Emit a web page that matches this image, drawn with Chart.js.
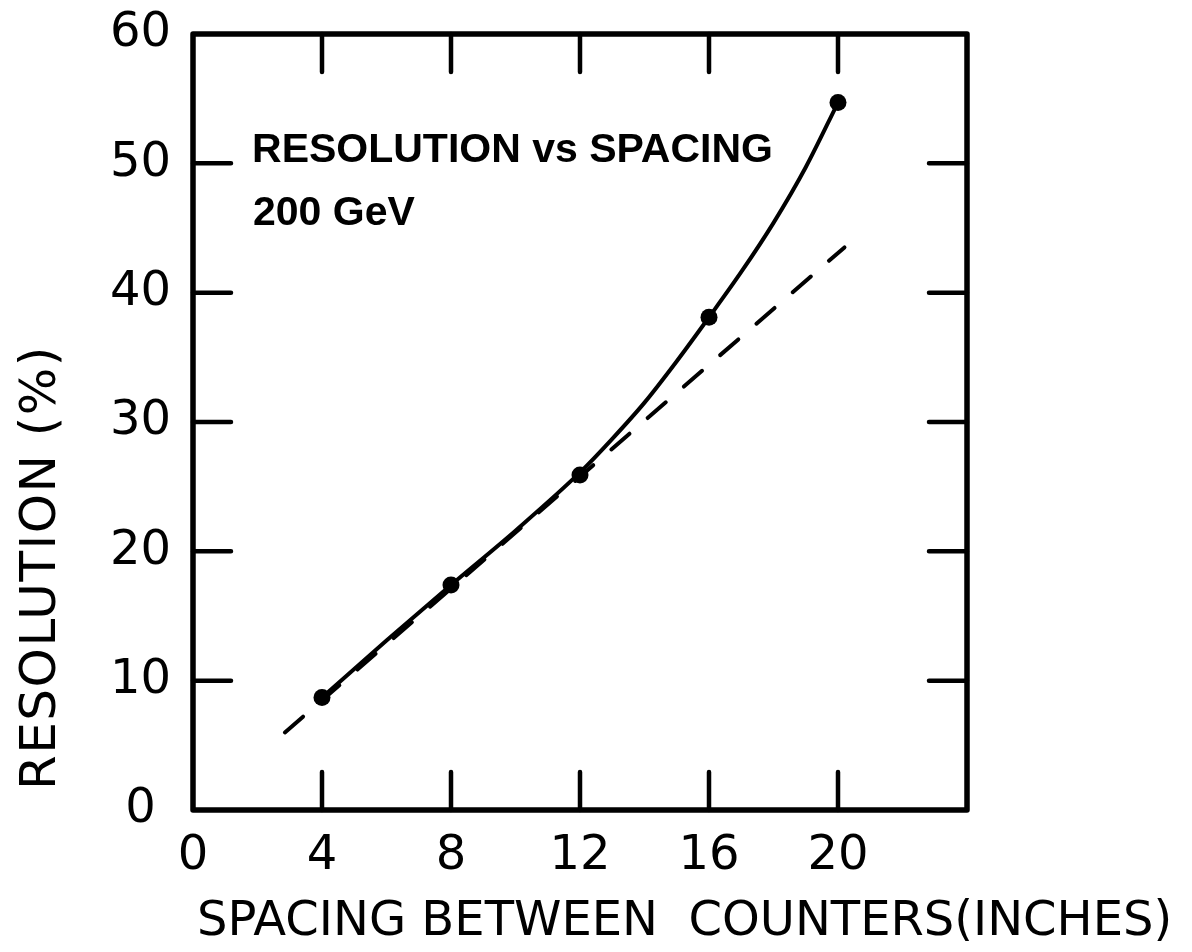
<!DOCTYPE html>
<html><head><meta charset="utf-8">
<script src="https://cdn.jsdelivr.net/npm/chart.js@4.4.1/dist/chart.umd.min.js"></script>
<style>html,body{margin:0;padding:0;background:#fff;} #wrap{width:1192px;height:952px;}</style>
</head><body><div id="wrap"><canvas id="c" width="1192" height="952"></canvas></div>
<script>
// ---- data ----
// measured points
const spacing = [4, 8, 12, 16, 20];
const resolution = [8.7, 17.4, 25.9, 38.1, 54.7];
// hand-drawn solid curve, positions
const curveX = [4, 6, 8, 10, 12, 13, 14, 15, 16, 17, 18, 19, 20];
const curveY = [8.7, 13.1, 17.4, 21.6, 26.1, 28.7, 31.5, 34.7, 38.1, 41.6, 45.4, 49.7, 54.7];
// dashed straight line, end points
const dashedX = [2.85, 20.2];
const dashedY = [6.0, 43.5];
const xTicks = [0, 4, 8, 12, 16, 20];
const yTicks = [0, 10, 20, 30, 40, 50, 60];
const xRange = [0, 24];
const yRange = [0, 60];
const noteLines = ['RESOLUTION vs SPACING', '200 GeV'];
const xTitle = 'SPACING BETWEEN  COUNTERS(INCHES)';
const yTitle = 'RESOLUTION (%)';

const INK = '#000';
const xTickFont = {family: 'DejaVu Sans', size: 48, weight: 'normal'};
const yTickFont = {family: 'DejaVu Sans', size: 48, weight: 'normal', lineHeight: 0.5};

const frameTicks = {
  id: 'frameTicks',
  afterDraw(chart) {
    const {ctx, chartArea: a, scales: {x, y}} = chart;
    ctx.save();
    ctx.strokeStyle = INK;
    ctx.lineCap = 'round';
    ctx.lineJoin = 'round';
    // inward tick marks
    ctx.lineWidth = 4.5;
    const L = 38;
    x.ticks.forEach(t => {
      if (t.value <= xRange[0] || t.value >= xRange[1]) return;
      const px = x.getPixelForValue(t.value);
      ctx.beginPath();
      ctx.moveTo(px, a.bottom); ctx.lineTo(px, a.bottom - L);
      ctx.moveTo(px, a.top); ctx.lineTo(px, a.top + L);
      ctx.stroke();
    });
    y.ticks.forEach(t => {
      if (t.value <= yRange[0] || t.value >= yRange[1]) return;
      const py = y.getPixelForValue(t.value);
      ctx.beginPath();
      ctx.moveTo(a.left, py); ctx.lineTo(a.left + L, py);
      ctx.moveTo(a.right, py); ctx.lineTo(a.right - L, py);
      ctx.stroke();
    });
    // frame
    ctx.lineWidth = 5.5;
    ctx.strokeRect(a.left, a.top, a.right - a.left, a.bottom - a.top);
    // notes inside the plot
    ctx.fillStyle = INK;
    ctx.textBaseline = 'alphabetic';
    ctx.textAlign = 'left';
    ctx.font = 'bold 41px "Liberation Sans"';
    ctx.fillText(noteLines[0], x.getPixelForValue(1.83), y.getPixelForValue(50.1));
    ctx.fillText(noteLines[1], x.getPixelForValue(1.86), y.getPixelForValue(45.2));
    // axis titles
    ctx.font = '48px "DejaVu Sans"';
    ctx.fillText(xTitle, a.left + 4, 935);
    ctx.save();
    ctx.translate(55, a.bottom - 20);
    ctx.rotate(-Math.PI / 2);
    ctx.font = '50px "DejaVu Sans"';
    ctx.letterSpacing = '1.5px';
    ctx.fillText(yTitle, 0, 0);
    ctx.restore();
    ctx.restore();
  }
};

new Chart(document.getElementById('c'), {
  type: 'scatter',
  data: {
    datasets: [
      {
        label: 'extrapolation',
        data: dashedX.map((v, i) => ({x: v, y: dashedY[i]})),
        showLine: true,
        borderColor: INK,
        borderWidth: 4,
        borderDash: [24, 24],
        borderCapStyle: 'round',
        pointRadius: 0,
        tension: 0
      },
      {
        label: 'curve',
        data: curveX.map((v, i) => ({x: v, y: curveY[i]})),
        showLine: true,
        cubicInterpolationMode: 'monotone',
        borderColor: INK,
        borderWidth: 4,
        borderCapStyle: 'round',
        borderJoinStyle: 'round',
        pointRadius: 0
      },
      {
        label: 'resolution',
        data: spacing.map((v, i) => ({x: v, y: resolution[i]})),
        showLine: false,
        backgroundColor: INK,
        pointBackgroundColor: INK,
        pointBorderColor: INK,
        pointRadius: 8.5,
        pointBorderWidth: 0
      }
    ]
  },
  options: {
    responsive: false,
    devicePixelRatio: 1,
    animation: false,
    layout: {padding: {left: 0, right: 225, top: 34, bottom: 0}},
    plugins: {legend: {display: false}, tooltip: {enabled: false}, title: {display: false}},
    scales: {
      x: {
        type: 'linear', min: xRange[0], max: xRange[1],
        afterBuildTicks: s => { s.ticks = xTicks.map(v => ({value: v})); },
        afterFit: s => { s.height = 142; },
        grid: {display: false, drawTicks: false},
        border: {display: false},
        ticks: {font: xTickFont, color: INK, padding: 18, maxRotation: 0, autoSkip: false}
      },
      y: {
        type: 'linear', min: yRange[0], max: yRange[1],
        afterBuildTicks: s => { s.ticks = yTicks.map(v => ({value: v})); },
        afterFit: s => { s.width = 193; },
        grid: {display: false, drawTicks: false},
        border: {display: false},
        ticks: {font: yTickFont, color: INK, padding: 22, crossAlign: 'center', autoSkip: false}
      }
    }
  },
  plugins: [frameTicks]
});
</script>
</body></html>
